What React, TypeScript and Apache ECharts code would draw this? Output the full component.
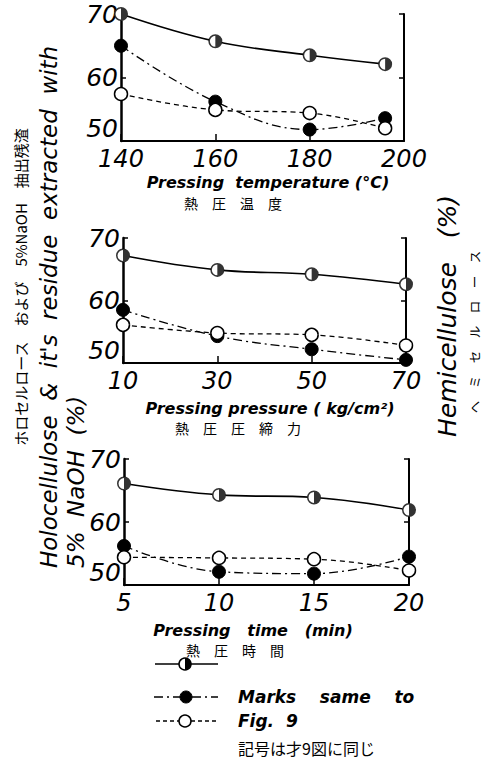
import React, { useEffect, useRef } from 'react';
import * as echarts from 'echarts';

// ---- data ----
const tempX = [140, 160, 180, 196];
const tempHolo = [70.0, 65.7, 63.5, 62.1];
const tempResidue = [65.0, 56.2, 51.8, 53.6];
const tempHemi = [57.4, 54.9, 54.4, 52.0];

const pressX = [10, 30, 50, 70];
const pressHolo = [67.2, 64.9, 64.2, 62.6];
const pressResidue = [58.5, 54.3, 52.2, 50.5];
const pressHemi = [56.1, 54.8, 54.5, 52.8];

const timeX = [5, 10, 15, 20];
const timeHolo = [66.1, 64.3, 63.9, 61.9];
const timeResidue = [56.2, 52.1, 51.8, 54.5];
const timeHemi = [54.4, 54.3, 54.1, 52.3];

const xRanges = [
  { min: 140, max: 200, interval: 20 },
  { min: 10, max: 70, interval: 20 },
  { min: 5, max: 20, interval: 5 },
];
const yRange = { min: 50, max: 70, interval: 10 };

const xTitles = ['Pressing  temperature (°C)', 'Pressing pressure ( kg/cm²)', 'Pressing   time   (min)'];
const xTitlesJa = ['熱　圧　温　度', '熱　圧　圧　締　力', '熱　圧　時　間'];

// ---- layout ----
const grids = [
  { left: 121, top: 14, width: 283, height: 127 },
  { left: 123, top: 238, width: 283, height: 125 },
  { left: 124, top: 459, width: 285, height: 126 },
];
const titlePos = [
  { x: 268, y: 182, jx: 233, jy: 203 },
  { x: 270, y: 408, jx: 238, jy: 428 },
  { x: 253, y: 630, jx: 235, jy: 650 },
];

const HALF =
  'path://M10,0 A10,10 0 1,1 10,20 A10,10 0 1,1 10,0 Z M10,2.2 A7.8,7.8 0 1,0 10,17.8 A7.8,7.8 0 1,0 10,2.2 Z M10,2.2 A7.8,7.8 0 0,1 10,17.8 Z';

const DASHDOT = [9, 4, 2, 4];
const DASHED = [5, 4];
const SYM = 13;
const LABEL_FONT = 'DejaVu Sans';

function pairs(xs: number[], ys: number[]) {
  return xs.map((x, i) => [x, ys[i]]);
}

function buildOption() {
  const panels = [
    { x: tempX, holo: tempHolo, res: tempResidue, hemi: tempHemi },
    { x: pressX, holo: pressHolo, res: pressResidue, hemi: pressHemi },
    { x: timeX, holo: timeHolo, res: timeResidue, hemi: timeHemi },
  ];

  const xAxis: any[] = [];
  const yAxis: any[] = [];
  const series: any[] = [];

  panels.forEach((p, i) => {
    xAxis.push({
      type: 'value',
      gridIndex: i,
      ...xRanges[i],
      axisLine: { show: true, onZero: false, lineStyle: { color: '#000', width: 2 } },
      axisTick: { show: true, inside: true, length: 7, lineStyle: { color: '#000', width: 1.5 } },
      axisLabel: {
        color: '#000',
        fontSize: 24,
        fontStyle: 'italic',
        fontWeight: 200,
        fontFamily: LABEL_FONT,
        margin: 6,
      },
      splitLine: { show: false },
    });
    yAxis.push({
      type: 'value',
      gridIndex: i,
      position: 'left',
      ...yRange,
      axisLine: { show: true, onZero: false, lineStyle: { color: '#000', width: 2.5 } },
      axisTick: { show: true, inside: true, length: 5, lineStyle: { color: '#000', width: 1.5 } },
      axisLabel: {
        color: '#000',
        fontSize: 25,
        fontStyle: 'italic',
        fontWeight: 200,
        fontFamily: LABEL_FONT,
        margin: 3,
        verticalAlignMinLabel: 'bottom',
      },
      splitLine: { show: false },
    });
    yAxis.push({
      type: 'value',
      gridIndex: i,
      position: 'right',
      ...yRange,
      axisLine: { show: true, onZero: false, lineStyle: { color: '#000', width: 2 } },
      axisTick: { show: true, inside: true, length: 5, lineStyle: { color: '#000', width: 1.5 } },
      axisLabel: { show: false },
      splitLine: { show: false },
    });

    const yi = i * 2;
    series.push({
      type: 'line',
      name: 'Holocellulose',
      xAxisIndex: i,
      yAxisIndex: yi,
      data: pairs(p.x, p.holo),
      smooth: 0.4,
      symbol: 'circle',
      symbolSize: SYM,
      itemStyle: { color: '#fff', borderColor: '#000', borderWidth: 0 },
      lineStyle: { color: '#000', width: 1.6, type: 'solid' },
      z: 3,
    });
    series.push({
      type: 'scatter',
      name: 'Holocellulose mark',
      xAxisIndex: i,
      yAxisIndex: yi,
      data: pairs(p.x, p.holo),
      symbol: HALF,
      symbolSize: SYM + 1,
      itemStyle: { color: '#000' },
      z: 4,
    });
    series.push({
      type: 'line',
      name: 'Residue',
      xAxisIndex: i,
      yAxisIndex: yi,
      data: pairs(p.x, p.res),
      smooth: 0.4,
      symbol: 'circle',
      symbolSize: SYM,
      itemStyle: { color: '#000', borderColor: '#000', borderWidth: 1 },
      lineStyle: { color: '#000', width: 1.3, type: DASHDOT },
      z: 5,
    });
    series.push({
      type: 'line',
      name: 'Hemicellulose',
      xAxisIndex: i,
      yAxisIndex: yi,
      data: pairs(p.x, p.hemi),
      smooth: 0.4,
      symbol: 'circle',
      symbolSize: SYM,
      itemStyle: { color: '#fff', borderColor: '#000', borderWidth: 1.5 },
      lineStyle: { color: '#000', width: 1.3, type: DASHED },
      z: 6,
    });
  });

  const titleFont = 'italic bold 16px "DejaVu Sans"';
  const jaFont = '14px "Noto Sans CJK JP"';
  const graphic: any[] = [];

  titlePos.forEach((t, i) => {
    graphic.push({
      type: 'text',
      x: t.x,
      y: t.y,
      style: { text: xTitles[i], font: titleFont, fill: '#000', align: 'center', verticalAlign: 'middle' },
    });
    graphic.push({
      type: 'text',
      x: t.jx,
      y: t.jy,
      style: { text: xTitlesJa[i], font: jaFont, fill: '#000', align: 'center', verticalAlign: 'middle' },
    });
  });

  // left side titles (rotated)
  graphic.push({
    type: 'text',
    x: 20,
    y: 287,
    rotation: Math.PI / 2,
    style: {
      text: 'ホロセルロース　および　5%NaOH　抽出残渣',
      font: '15px "Noto Sans CJK JP"',
      fill: '#000',
      align: 'center',
      verticalAlign: 'middle',
    },
  });
  graphic.push({
    type: 'text',
    x: 49,
    y: 568,
    rotation: Math.PI / 2,
    style: {
      text: "Holocellulose  &  it's  residue  extracted  with",
      font: 'italic 200 23px "DejaVu Sans"',
      fill: '#000',
      align: 'left',
      verticalAlign: 'middle',
    },
  });
  graphic.push({
    type: 'text',
    x: 76,
    y: 568,
    rotation: Math.PI / 2,
    style: {
      text: '5%  NaOH  (%)',
      font: 'italic 200 23px "DejaVu Sans"',
      fill: '#000',
      align: 'left',
      verticalAlign: 'middle',
    },
  });
  // right side titles
  graphic.push({
    type: 'text',
    x: 447,
    y: 437,
    rotation: Math.PI / 2,
    style: {
      text: 'Hemicellulose   (%)',
      font: 'italic 200 25px "DejaVu Sans"',
      fill: '#000',
      align: 'left',
      verticalAlign: 'middle',
    },
  });
  graphic.push({
    type: 'text',
    x: 474,
    y: 332,
    rotation: Math.PI / 2,
    style: {
      text: 'ヘ　ミ　セ　ル　ロ　ー　ス',
      font: '12.5px "Noto Sans CJK JP"',
      fill: '#000',
      align: 'center',
      verticalAlign: 'middle',
    },
  });

  // legend
  const ly = [664, 697, 721];
  graphic.push({ type: 'line', shape: { x1: 155, y1: ly[0], x2: 218, y2: ly[0] }, style: { stroke: '#000', lineWidth: 1.6 } });
  graphic.push({ type: 'circle', shape: { cx: 185, cy: ly[0], r: 6 }, style: { fill: '#fff', stroke: '#000', lineWidth: 1.5 } });
  graphic.push({
    type: 'sector',
    shape: { cx: 185, cy: ly[0], r: 6, r0: 0, startAngle: -Math.PI / 2, endAngle: Math.PI / 2, clockwise: true },
    style: { fill: '#000' },
  });
  graphic.push({ type: 'line', shape: { x1: 154, y1: ly[1], x2: 218, y2: ly[1] }, style: { stroke: '#000', lineWidth: 1.4, lineDash: DASHDOT } });
  graphic.push({ type: 'circle', shape: { cx: 186, cy: ly[1], r: 6 }, style: { fill: '#000', stroke: '#000', lineWidth: 1 } });
  graphic.push({ type: 'line', shape: { x1: 156, y1: ly[2], x2: 218, y2: ly[2] }, style: { stroke: '#000', lineWidth: 1.3, lineDash: [4, 3] } });
  graphic.push({ type: 'circle', shape: { cx: 185, cy: ly[2], r: 6 }, style: { fill: '#fff', stroke: '#000', lineWidth: 1.5 } });

  const legFont = 'italic bold 17px "DejaVu Sans"';
  graphic.push({
    type: 'text',
    x: 238,
    y: ly[1],
    style: { text: 'Marks    same    to', font: legFont, fill: '#000', align: 'left', verticalAlign: 'middle' },
  });
  graphic.push({
    type: 'text',
    x: 238,
    y: ly[2],
    style: { text: 'Fig.  9', font: legFont, fill: '#000', align: 'left', verticalAlign: 'middle' },
  });
  graphic.push({
    type: 'text',
    x: 238,
    y: 748,
    style: { text: '記号は才9図に同じ', font: '16px "Noto Sans CJK JP"', fill: '#000', align: 'left', verticalAlign: 'middle' },
  });

  return {
    animation: false,
    backgroundColor: '#fff',
    grid: grids.map((g) => ({ ...g, containLabel: false, outerBoundsMode: 'none' })),
    xAxis,
    yAxis,
    series,
    graphic,
  };
}

export default function App() {
  const ref = useRef<HTMLDivElement>(null);
  useEffect(() => {
    document.body.style.margin = '0';
    const chart = echarts.init(ref.current!, null, { renderer: 'svg' });
    chart.setOption(buildOption() as any);
    return () => chart.dispose();
  }, []);
  return <div ref={ref} style={{ width: 488, height: 759, background: '#fff' }} />;
}
